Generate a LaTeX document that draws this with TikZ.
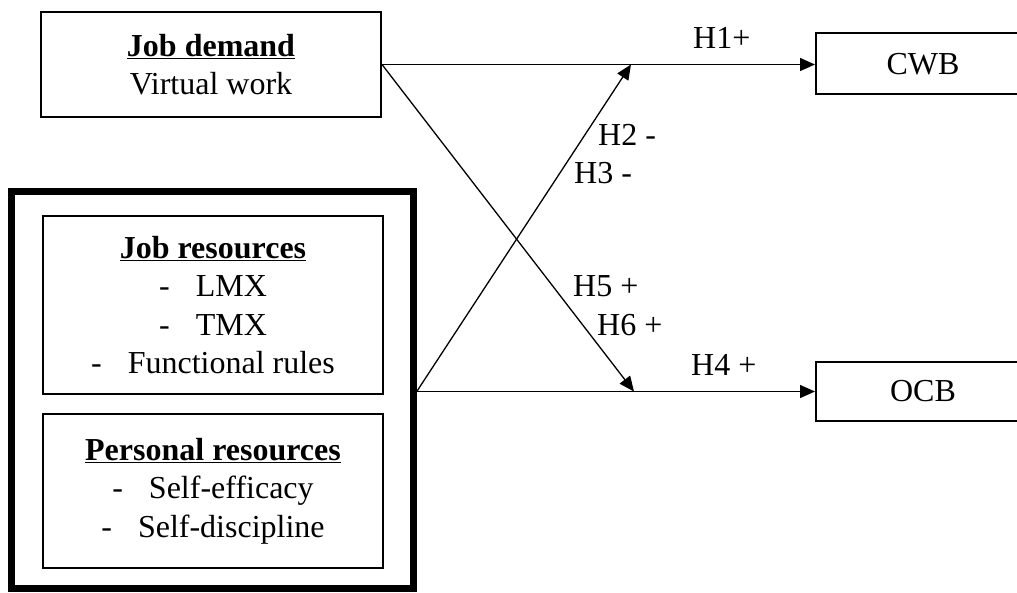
\documentclass[tikz,border=0pt]{standalone}
\usepackage{fontspec}
\setmainfont{Liberation Serif}
\usetikzlibrary{arrows.meta,calc}
\begin{document}
\begin{tikzpicture}[x=1pt,y=-1pt,
  box/.style={draw,line width=2pt,rectangle,inner sep=0pt,align=center,font=\fontsize{32}{38.5}\selectfont},
  lab/.style={anchor=base west,inner sep=0pt,font=\fontsize{32}{36}\selectfont},
  conn/.style={line width=1.3pt,-{Triangle[length=15pt,width=13pt]}}]
\useasboundingbox (0,0) rectangle (1017,592);
\node[box,minimum width=340pt,minimum height=105pt] (jd) at (211,64.5) {\underline{\textbf{Job demand}}\\Virtual work};
\node[draw,line width=6.5pt,minimum width=402pt,minimum height=397pt,inner sep=0pt] (res) at (212.5,390) {};
\node[box,minimum width=340pt,minimum height=178pt] (jr) at (213,305) {\underline{\textbf{Job resources}}\\-\hspace{26pt}LMX\\-\hspace{26pt}TMX\\-\hspace{26pt}Functional rules};
\node[box,minimum width=340pt,minimum height=154pt] (pr) at (213,491) {\underline{\textbf{Personal resources}}\\-\hspace{26pt}Self-efficacy\\-\hspace{26pt}Self-discipline};
\node[box,minimum width=214pt,minimum height=61pt] (cwb) at (923,63.8) {CWB};
\node[box,minimum width=214pt,minimum height=59pt] (ocb) at (923,391.5) {OCB};
\coordinate (t1) at (634,391.5);
\coordinate (t2) at (631,64.5);
\draw[conn] (jd.east) -- (jd.east -| cwb.west);
\draw[conn] (res.east |- ocb.west) -- (ocb.west);
\draw[conn] (jd.east) -- (t1);
\draw[conn] (res.east |- ocb.west) -- (t2);
\node[lab] (h1) at (693,48) {H1+};
\node[lab] (h2) at (598,145) {H2 -};
\node[lab] (h3) at (574,183) {H3 -};
\node[lab] (h5) at (573,296) {H5 +};
\node[lab] (h6) at (597,335) {H6 +};
\node[lab] (h4) at (691,375) {H4 +};
\end{tikzpicture}
\end{document}
